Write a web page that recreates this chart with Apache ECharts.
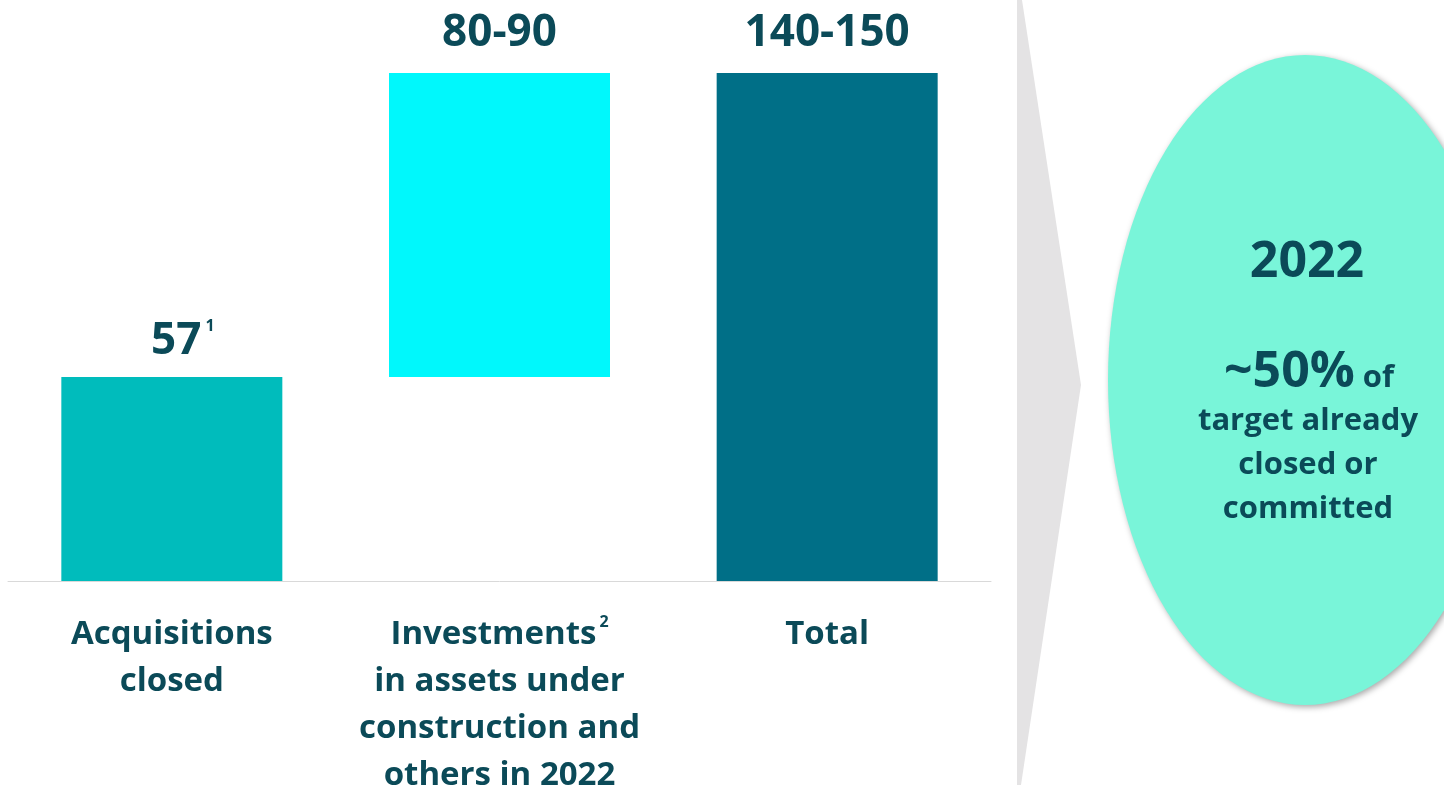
<!DOCTYPE html>
<html>
<head>
<meta charset="utf-8">
<script src="https://cdn.jsdelivr.net/npm/echarts@6/dist/echarts.min.js"></script>
<style>
  html, body { margin: 0; padding: 0; background: #fff; overflow: hidden; }
  #chart { width: 100vw; height: 100vh; }
</style>
</head>
<body>
<div id="chart"></div>
<script>
// data
const categories = ['Acquisitions\nclosed', 'Investments\nin assets under\nconstruction and\nothers in 2022', 'Total'];
const categorySup = ['', '2', ''];
const baseValues = [0, 57, 0];
const barValues = [57, 85, 142];
const valueLabels = ['57', '80-90', '140-150'];
const valueSup = ['1', '', ''];
const barColors = ['#00BCBC', '#00F8FC', '#006F87'];

const dark = '#0B4A58';
const font = '"Open Sans", sans-serif';

let el = document.getElementById('chart');
let chart = echarts.init(el);
let H = el.clientHeight;

let option = {
    backgroundColor: '#fff',
    animation: false,
    grid: { left: 8, right: 453, top: 73, bottom: H - 589 },
    xAxis: {
        type: 'category',
        data: categories,
        axisLine: { lineStyle: { color: '#d9d9d9', width: 1 } },
        axisTick: { show: false },
        axisLabel: {
            margin: 30,
            interval: 0,
            color: dark,
            fontFamily: font,
            fontWeight: 'bold',
            fontSize: 33,
            lineHeight: 47,
            formatter: function (v, i) {
                let lines = v.split('\n')
                lines[0] = '{t|' + lines[0] + '}' + (categorySup[i] ? '{s|' + categorySup[i] + '}' : '')
                return lines.map((l, k) => k === 0 ? l : '{t|' + l + '}').join('\n')
            },
            rich: {
                t: { color: dark, fontFamily: font, fontWeight: 'bold', fontSize: 33, lineHeight: 47 },
                s: { color: dark, fontFamily: font, fontWeight: 'bold', fontSize: 16, padding: [0, 0, 24, 3] }
            }
        }
    },
    yAxis: {
        type: 'value',
        min: 0,
        max: 142,
        show: false,
        splitLine: { show: false }
    },
    series: [
        {
            type: 'bar',
            stack: 'w',
            data: baseValues,
            itemStyle: { color: 'rgba(0,0,0,0)' },
            barWidth: 221,
            silent: true
        },
        {
            type: 'bar',
            stack: 'w',
            barWidth: 221,
            data: barValues.map((v, i) => ({
                value: v,
                itemStyle: { color: barColors[i] },
                label: i === 0 ? { offset: [11, 5] } : {}
            })),
            label: {
                show: true,
                position: 'top',
                distance: 18,
                formatter: function (p) {
                    let i = p.dataIndex
                    return '{v|' + valueLabels[i] + '}' + (valueSup[i] ? '{s|' + valueSup[i] + '}' : '')
                },
                rich: {
                    v: { color: dark, fontFamily: font, fontWeight: 'bold', fontSize: 44 },
                    s: { color: dark, fontFamily: font, fontWeight: 'bold', fontSize: 16, padding: [0, 0, 30, 4] }
                }
            }
        }
    ],
    graphic: [
        {
            type: 'polygon',
            silent: true,
            shape: { points: [[1017, 0], [1022, 0], [1081, 385], [1021, 785], [1017, 785]] },
            style: { fill: '#e4e3e4' }
        },
        {
            type: 'circle',
            silent: true,
            x: 1305, y: 380,
            scaleX: 1, scaleY: 325 / 197,
            shape: { cx: 0, cy: 0, r: 197 },
            style: {
                fill: '#79F5D9',
                shadowBlur: 6, shadowOffsetX: 2, shadowOffsetY: 2, shadowColor: 'rgba(0,0,0,0.35)'
            }
        },
        {
            type: 'text', silent: true, x: 1307, y: 263,
            style: { text: '2022', fill: dark, font: 'bold 50px "Open Sans", sans-serif', align: 'center', verticalAlign: 'middle' }
        },
        {
            type: 'text', silent: true, x: 1309, y: 373,
            style: {
                text: '{b|~50%}{o| of}',
                align: 'center', verticalAlign: 'middle',
                rich: {
                    b: { fill: dark, fontFamily: font, fontWeight: 'bold', fontSize: 50 },
                    o: { fill: dark, fontFamily: font, fontWeight: 'bold', fontSize: 31, padding: [10, 0, 0, 0] }
                }
            }
        },
        {
            type: 'text', silent: true, x: 1308, y: 465,
            style: {
                text: 'target already\nclosed or\ncommitted',
                fill: dark, font: 'bold 31px "Open Sans", sans-serif', lineHeight: 44,
                align: 'center', verticalAlign: 'middle'
            }
        }
    ]
};

chart.setOption(option);
</script>
</body>
</html>
